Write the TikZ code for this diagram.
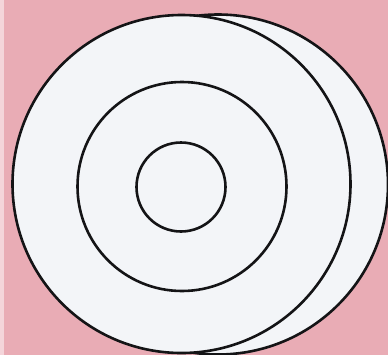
\documentclass[tikz,border=0pt]{standalone}
\definecolor{bgpink}{RGB}{233,172,181}
\definecolor{discwhite}{RGB}{243,245,248}
\definecolor{ink}{RGB}{20,20,22}
\tikzset{
  ring/.style={draw=ink, line width=2.6bp},
  disc/.style={ring, fill=discwhite},
}
\begin{document}
\begin{tikzpicture}[x=1bp,y=-1bp]
  \fill[bgpink] (0,0) rectangle (388,355);
  \fill[bgpink!50!white] (0,0) rectangle (4,355);
  \useasboundingbox (0,0) rectangle (388,355);
  % back disc
  \draw[disc] (218,184.5) circle[radius=170];
  % front disc
  \draw[disc] (181.5,184) circle[radius=169];
  % inner rings
  \draw[ring] (182,186.5) circle[radius=104.5];
  \draw[ring] (181,187) circle[radius=44.5];
\end{tikzpicture}
\end{document}
